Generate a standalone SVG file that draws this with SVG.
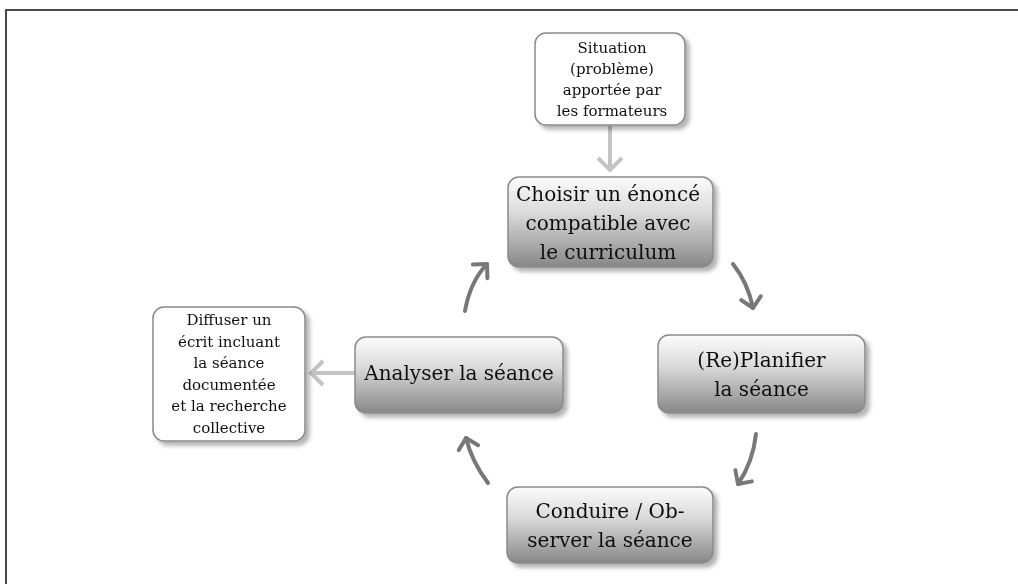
<svg xmlns="http://www.w3.org/2000/svg" width="1018" height="584" viewBox="0 0 1018 584">
<style>
.t{font-family:"DejaVu Serif","Liberation Serif",serif;fill:#111;text-anchor:middle;dominant-baseline:central}
.big{font-size:20px}
.small{font-size:15px}
.main{fill:url(#g);stroke:#8a8a8a;stroke-width:1.5}
.side{fill:#fff;stroke:#8a8a8a;stroke-width:1.5}
.cyc{fill:none;stroke:#787878;stroke-width:4;stroke-linecap:round;marker-end:url(#ad)}
.lt{fill:none;stroke:#c4c4c4;stroke-width:4;marker-end:url(#al)}
</style>
<defs>
<linearGradient id="g" x1="0" y1="0" x2="0" y2="1">
<stop offset="0" stop-color="#fcfcfc"/>
<stop offset="0.4" stop-color="#dadada"/>
<stop offset="1" stop-color="#878787"/>
</linearGradient>
<filter id="sh" x="-10%" y="-10%" width="130%" height="130%">
<feGaussianBlur in="SourceAlpha" stdDeviation="2"/>
<feOffset dx="4" dy="4" result="o"/>
<feComponentTransfer><feFuncA type="linear" slope="0.3"/></feComponentTransfer>
<feMerge><feMergeNode/><feMergeNode in="SourceGraphic"/></feMerge>
</filter>
<marker id="ad" markerUnits="userSpaceOnUse" viewBox="-14 -13 18 26" markerWidth="18" markerHeight="26" refX="0" refY="0" orient="auto">
<path d="M-10,-10 L0,0 L-10,10" fill="none" stroke="#787878" stroke-width="4" stroke-linecap="round" stroke-linejoin="round"/>
</marker>
<marker id="al" markerUnits="userSpaceOnUse" viewBox="-16 -14 20 28" markerWidth="20" markerHeight="28" refX="0" refY="0" orient="auto">
<path d="M-12,-12 L0,0 L-12,12" fill="none" stroke="#c4c4c4" stroke-width="4"/>
</marker>
</defs>
<rect width="1018" height="584" fill="#fff"/>
<path d="M6,584 L6,10 L1018,10" fill="none" stroke="#4a4a4a" stroke-width="2"/>
<g id="connectors">
<path class="lt" d="M610,125 L610,170"/>
<path class="lt" d="M355,373 L311,373"/>
<path class="cyc" d="M733,264 Q748,283 753,308"/>
<path class="cyc" d="M756,434 Q753,462 738,484"/>
<path class="cyc" d="M488,483 Q472,462 466,438"/>
<path class="cyc" d="M465,311 Q470,282 487,264"/>
</g>
<g id="situation" filter="url(#sh)">
<rect class="side" x="535" y="33" width="150" height="92" rx="11"/>
<text class="t small" x="612" y="48">Situation</text>
<text class="t small" x="612" y="69">(problème)</text>
<text class="t small" x="612" y="90">apportée par</text>
<text class="t small" x="612" y="111">les formateurs</text>
</g>
<g id="choisir" filter="url(#sh)">
<rect class="main" x="508" y="177" width="205" height="90" rx="11"/>
<text class="t big" x="608" y="194">Choisir un énoncé</text>
<text class="t big" x="608" y="223">compatible avec</text>
<text class="t big" x="608" y="252">le curriculum</text>
</g>
<g id="planifier" filter="url(#sh)">
<rect class="main" x="658" y="335" width="207" height="78" rx="11"/>
<text class="t big" x="761.5" y="359.5">(Re)Planifier</text>
<text class="t big" x="761.5" y="388.5">la séance</text>
</g>
<g id="conduire" filter="url(#sh)">
<rect class="main" x="507" y="487" width="206" height="76" rx="11"/>
<text class="t big" x="610" y="511">Conduire / Ob-</text>
<text class="t big" x="610" y="540">server la séance</text>
</g>
<g id="analyser" filter="url(#sh)">
<rect class="main" x="355" y="337" width="208" height="76" rx="11"/>
<text class="t big" x="459" y="373">Analyser la séance</text>
</g>
<g id="diffuser" filter="url(#sh)">
<rect class="side" x="153" y="307" width="152" height="134" rx="11"/>
<text class="t small" x="229" y="320">Diffuser un</text>
<text class="t small" x="229" y="341.5">écrit incluant</text>
<text class="t small" x="229" y="363">la séance</text>
<text class="t small" x="229" y="384.5">documentée</text>
<text class="t small" x="229" y="406">et la recherche</text>
<text class="t small" x="229" y="427.5">collective</text>
</g>
</svg>
